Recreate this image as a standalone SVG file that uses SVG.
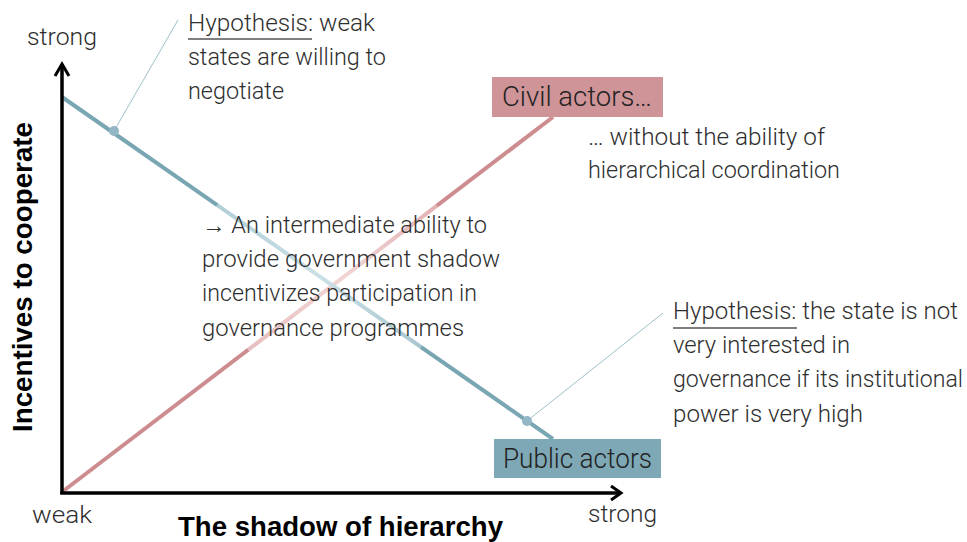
<svg xmlns="http://www.w3.org/2000/svg" width="967" height="542" viewBox="0 0 967 542">
  <style>
    .t { font-family: Roboto, "Liberation Sans", Arial, sans-serif; font-weight: 300; font-size: 23px; fill: #2e2e2e; }
    .lbl { font-family: Roboto, "Liberation Sans", Arial, sans-serif; font-weight: 300; font-size: 27.5px; fill: #222; }
    .b { font-family: "Liberation Sans", Arial, sans-serif; font-weight: bold; font-size: 27px; fill: #000; }
    .axis { stroke: #000; stroke-width: 3.5; fill: none; }
    .head { stroke: #000; stroke-width: 3; fill: none; stroke-linecap: butt; stroke-linejoin: miter; }
    .callout { stroke: #9fc0ca; stroke-width: 1; fill: none; }
    .ul { stroke: #555; stroke-width: 1.5; }
    .dot { fill: #93b7c4; }
  </style>
  <defs>
    <linearGradient id="gBlue" gradientUnits="userSpaceOnUse" x1="62" y1="97" x2="553" y2="439">
      <stop offset="0" stop-color="#79a6b3"/>
      <stop offset="0.315" stop-color="#79a6b3"/>
      <stop offset="0.317" stop-color="#b2cfd7"/>
      <stop offset="0.53" stop-color="#cbe0e6"/>
      <stop offset="0.73" stop-color="#a9c7d0"/>
      <stop offset="0.733" stop-color="#79a6b3"/>
      <stop offset="1" stop-color="#79a6b3"/>
    </linearGradient>
    <linearGradient id="gRed" gradientUnits="userSpaceOnUse" x1="62" y1="492" x2="553" y2="117">
      <stop offset="0" stop-color="#cd8c8f"/>
      <stop offset="0.378" stop-color="#cd8c8f"/>
      <stop offset="0.38" stop-color="#e8bfc0"/>
      <stop offset="0.57" stop-color="#f1d5d5"/>
      <stop offset="0.762" stop-color="#e3b3b4"/>
      <stop offset="0.765" stop-color="#cd8c8f"/>
      <stop offset="1" stop-color="#cd8c8f"/>
    </linearGradient>
  </defs>

  <g id="connectors">
    <line x1="62" y1="492" x2="553" y2="117" stroke="url(#gRed)" stroke-width="4"/>
    <line x1="62" y1="97" x2="553" y2="439" stroke="url(#gBlue)" stroke-width="4"/>
    <line class="callout" x1="114" y1="131" x2="178" y2="20"/>
    <line class="callout" x1="527" y1="421" x2="663" y2="313"/>
    <circle class="dot" cx="114" cy="131" r="5"/>
    <circle class="dot" cx="527" cy="421" r="5"/>
  </g>

  <g id="axes">
    <line class="axis" x1="62" y1="494" x2="62" y2="64"/>
    <polyline class="head" points="55,76 62,64 69,76"/>
    <line class="axis" x1="60.25" y1="493" x2="620" y2="493"/>
    <polyline class="head" points="611,486 621,493 611,500"/>
    <text class="t" x="27" y="45" textLength="70" lengthAdjust="spacingAndGlyphs">strong</text>
    <text class="t" x="32" y="523" textLength="60" lengthAdjust="spacingAndGlyphs">weak</text>
    <text class="t" x="588" y="522" textLength="69" lengthAdjust="spacingAndGlyphs">strong</text>
    <text class="b" x="178" y="536" textLength="325" lengthAdjust="spacingAndGlyphs">The shadow of hierarchy</text>
    <text class="b" transform="translate(32,432) rotate(-90)" textLength="310" lengthAdjust="spacingAndGlyphs">Incentives to cooperate</text>
  </g>

  <g id="civil-actors">
    <rect x="492" y="77" width="171" height="40" fill="#cf9497"/>
    <text class="lbl" x="502" y="106" textLength="150" lengthAdjust="spacingAndGlyphs">Civil actors…</text>
  </g>

  <g id="public-actors">
    <rect x="494" y="439" width="167" height="39" fill="#7ea8b5"/>
    <text class="lbl" x="503" y="468" textLength="149" lengthAdjust="spacingAndGlyphs">Public actors</text>
  </g>

  <g id="hypothesis-weak">
    <text class="t" x="188" y="31" textLength="187" lengthAdjust="spacingAndGlyphs">Hypothesis: weak</text>
    <line class="ul" x1="188" y1="39" x2="312" y2="39"/>
    <text class="t" x="188" y="65" textLength="198" lengthAdjust="spacingAndGlyphs">states are willing to</text>
    <text class="t" x="188" y="99" textLength="96" lengthAdjust="spacingAndGlyphs">negotiate</text>
  </g>

  <g id="civil-note">
    <text class="t" x="588" y="145" textLength="237" lengthAdjust="spacingAndGlyphs">… without the ability of</text>
    <text class="t" x="588" y="178" textLength="252" lengthAdjust="spacingAndGlyphs">hierarchical coordination</text>
  </g>

  <g id="conclusion">
    <text class="t" x="202" y="233" textLength="285" lengthAdjust="spacingAndGlyphs">→ An intermediate ability to</text>
    <text class="t" x="202" y="267" textLength="298" lengthAdjust="spacingAndGlyphs">provide government shadow</text>
    <text class="t" x="202" y="301" textLength="275" lengthAdjust="spacingAndGlyphs">incentivizes participation in</text>
    <text class="t" x="202" y="336" textLength="262" lengthAdjust="spacingAndGlyphs">governance programmes</text>
  </g>

  <g id="hypothesis-strong">
    <text class="t" x="673" y="319" textLength="285" lengthAdjust="spacingAndGlyphs">Hypothesis: the state is not</text>
    <line class="ul" x1="673" y1="328" x2="797" y2="328"/>
    <text class="t" x="673" y="353" textLength="177" lengthAdjust="spacingAndGlyphs">very interested in</text>
    <text class="t" x="673" y="387" textLength="290" lengthAdjust="spacingAndGlyphs">governance if its institutional</text>
    <text class="t" x="673" y="422" textLength="190" lengthAdjust="spacingAndGlyphs">power is very high</text>
  </g>
</svg>
